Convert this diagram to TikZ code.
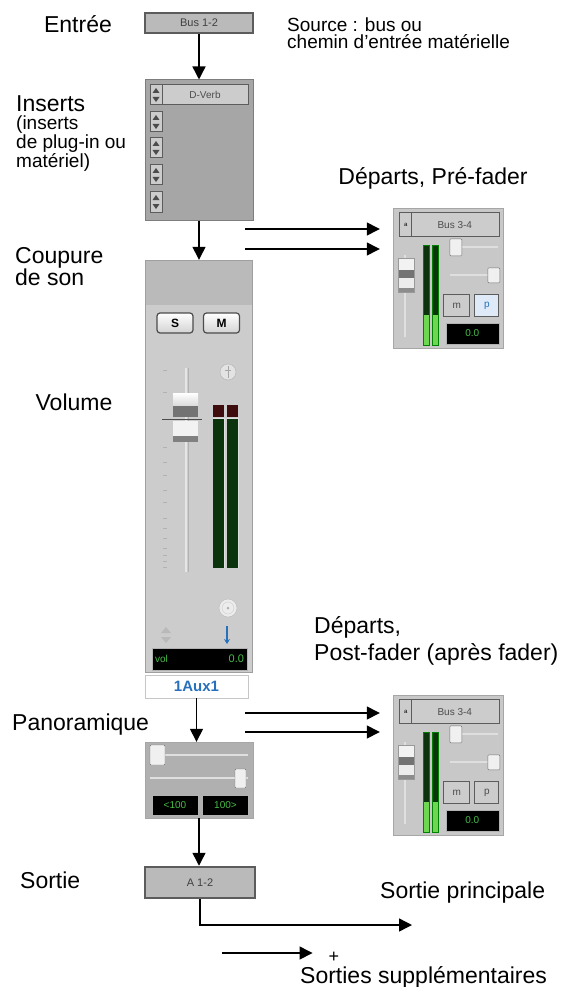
\documentclass[tikz,border=0pt]{standalone}
\usepackage{fontspec}
\setmainfont{Liberation Sans}
\usetikzlibrary{arrows.meta, positioning, calc}

\definecolor{busfill}{RGB}{186,186,186}
\definecolor{busedge}{RGB}{92,92,92}
\definecolor{insfill}{RGB}{166,166,166}
\definecolor{btnfill}{RGB}{204,204,204}
\definecolor{stripfill}{RGB}{204,204,204}
\definecolor{striptop}{RGB}{186,186,186}
\definecolor{sendfill}{RGB}{200,200,200}
\definecolor{panfill}{RGB}{176,176,176}
\definecolor{lcdgreen}{RGB}{70,190,70}
\definecolor{meterdark}{RGB}{12,52,12}
\definecolor{meterlit}{RGB}{110,215,80}
\definecolor{clipred}{RGB}{62,12,12}
\definecolor{auxblue}{RGB}{38,112,188}
\definecolor{pblue}{RGB}{222,234,248}

\tikzset{
  lbl/.style={font=\fontsize{23}{26}\selectfont, inner sep=0pt},
  note/.style={font=\fontsize{19}{17.5}\selectfont, inner sep=0pt, align=left},
  flow/.style={line width=1.4pt, -{Triangle[length=13pt, width=13pt]}},
  busbox/.style={draw=busedge, line width=2.5pt, fill=busfill, inner sep=0pt,
    font=\fontsize{11}{11}\selectfont, text=black!75},
  uibtn/.style={draw=busedge, line width=1pt, fill=btnfill, inner sep=0pt,
    font=\fontsize{10}{10}\selectfont, text=black!70},
  smbtn/.style={draw=black!70, line width=1.2pt, rounded corners=3pt, top color=white,
    bottom color=gray!35, minimum width=36pt, minimum height=20pt, inner sep=0pt,
    font=\bfseries\fontsize{12}{12}\selectfont},
  lcd/.style={fill=black, draw=gray!60, inner sep=0pt, font=\fontsize{10}{10}\selectfont, text=lcdgreen},
  knob/.style={draw=black!55, fill=gray!12, rounded corners=1pt},
  track/.style={draw=white!75!gray, line width=1.6pt},
  sendbox/.style={draw=gray!70, fill=sendfill, minimum width=110pt, minimum height=140pt, inner sep=0pt},
  pics/sendpanel/.style={code={
    % selecteur de bus
    \node[uibtn, minimum width=100pt, minimum height=24pt] (-bus) at (57,17) {\hspace{10pt}Bus 3-4};
    \draw[busedge, line width=1pt] (19,5) -- (19,29);
    \node[font=\fontsize{6}{6}\selectfont, inner sep=0pt] (-sel) at (13,17) {a};
    % fader
    \draw[track] (12,47) -- (12,129);
    \fill[white!90!gray] (5,50) rectangle (21,62);
    \fill[black!55] (5,62) rectangle (21,70);
    \fill[white!85!gray] (5,70) rectangle (21,80);
    \fill[black!45] (5,80) rectangle (21,84);
    \draw[black!40] (5,50) rectangle (21,84);
    % vu-metres
    \foreach \mx in {30,39} {
      \fill[meterdark] (\mx,37) rectangle (\mx+6,137);
      \fill[meterlit] (\mx,107) rectangle (\mx+6,137);
      \draw[black!50!green, line width=0.4pt] (\mx,37) rectangle (\mx+6,137);
    }
    % curseurs
    \draw[track] (57,39) -- (105,39);
    \draw[knob] (57,31) rectangle (69,48);
    \draw[track] (57,67) -- (105,67);
    \draw[knob] (95,60) rectangle (107,75);
    % boutons m et p
    \node[uibtn, minimum width=26pt, minimum height=22pt] (-m) at (64,98) {m};
    \node[uibtn, minimum width=24pt, minimum height=22pt, #1] (-p) at (94,98) {p};
    \node[lcd, minimum width=53pt, minimum height=21pt] (-lcd) at (79.5,125.5) {0.0};
  }},
}

\begin{document}
\begin{tikzpicture}[x=1pt, y=-1pt]
  \fill[white] (0,0) rectangle (568,987);
  \useasboundingbox (0,0) rectangle (568,987);

  % entree
  \node[busbox, minimum width=108pt, minimum height=20pt] (src) at (199,23) {Bus 1-2};
  \node[lbl] (srclbl) at (78,24) {Entrée};
  \node[note, anchor=west] (srcnote) at (287,33) {Source : bus ou\\chemin d'entrée matérielle};

  % inserts
  \node[draw=busedge!80, line width=1pt, fill=insfill, minimum width=108pt, minimum height=140pt, inner sep=0pt] (ins) at (199,150) {};
  \node[uibtn, minimum width=98pt, minimum height=20pt] (verb) at (199,95) {\hspace{12pt}D-Verb};
  \foreach \sy in {95,122,148,175,202} {
    \draw[uibtn] (150,\sy-10) rectangle (162,\sy+10);
    \fill[black!70] (156,\sy-7) -- (152.5,\sy-2) -- (159.5,\sy-2) -- cycle;
    \fill[black!70] (156,\sy+7) -- (152.5,\sy+2) -- (159.5,\sy+2) -- cycle;
  }
  \node[lbl, anchor=west] (inslbl) at (16,104) {Inserts};
  \node[note, anchor=north west] (insnote) at (16,116) {(inserts\\de plug-in ou\\matériel)};
  \draw[flow] (src.south) -- (ins.north);

  % tranche
  \node[draw=gray!75, fill=stripfill, minimum width=107pt, minimum height=412pt, inner sep=0pt] (ch) at (198.5,466) {};
  \fill[striptop] (145.5,260.5) rectangle (251.5,305);
  \draw[flow] (ins.south) -- (ins.south |- ch.north);
  \node[lbl, align=left, anchor=west, font=\fontsize{23}{22}\selectfont] (mutelbl) at (15,267) {Coupure\\de son};
  \node[smbtn] (solo) at (175,323) {S};
  \node[smbtn] (mute) at (221.5,323) {M};
  \draw[gray!60, fill=gray!22] (228,372) circle (8pt);
  \draw[gray!70, line width=0.8pt] (228,366) -- (228,378) (225,370) -- (231,370);

  % fader
  \node[lbl] (vollbl) at (74,402) {Volume};
  \foreach \ty in {370,392,447,462,475,490,502,518,528,538,548,555,561,567}
    \draw[gray!60, line width=0.8pt] (163,\ty) -- (167,\ty);
  \draw[white!80!gray, line width=2pt] (186,368) -- (186,572);
  \draw[gray!60, line width=0.5pt] (188,368) -- (188,572);
  \shade[top color=white, bottom color=gray!30] (173,393) rectangle (198,406);
  \fill[black!55] (173,406) rectangle (198,417);
  \fill[white!90!gray] (173,421) rectangle (198,436);
  \fill[black!50] (173,436) rectangle (198,442);
  \draw[black!70, line width=1pt] (162,419) -- (202,419);
  \foreach \mx in {213,227} {
    \fill[clipred] (\mx,405) rectangle (\mx+11,417);
    \fill[meterdark] (\mx,419) rectangle (\mx+11,568);
    \draw[white!75!gray, line width=0.8pt] (\mx,418) -- (\mx+11,418) -- (\mx+11,568);
  }
  \draw[gray!55, fill=gray!15] (228,608) circle (9pt);
  \draw[gray!40] (228,608) circle (6pt);
  \fill[gray!60] (228,608) circle (1.5pt);
  \fill[gray!55] (166,627) -- (161,633) -- (171,633) -- cycle;
  \fill[gray!55] (166,643) -- (161,637) -- (171,637) -- cycle;
  \draw[auxblue, line width=1.6pt, -{Stealth[length=5pt, width=6pt]}] (227,626) -- (227,644);
  \node[lcd, minimum width=95pt, minimum height=22pt] (vol) at (199.5,659) {};
  \node[text=lcdgreen, font=\fontsize{10}{10}\selectfont, inner sep=0pt, anchor=west] (volname) at ([xshift=3pt]vol.west) {vol};
  \node[text=lcdgreen, font=\fontsize{11}{11}\selectfont, inner sep=0pt, anchor=east] (volval) at ([xshift=-3pt]vol.east) {0.0};
  \node[draw=gray!45, fill=white, minimum width=103pt, minimum height=23pt, inner sep=0pt, text=auxblue,
    font=\bfseries\fontsize{15}{15}\selectfont] (aux) at (196.5,686.5) {1Aux1};

  % departs pre-fader
  \node[lbl] (prelbl) at (433,178) {Départs, Pré-fader};
  \node[sendbox] (pre) at (448,278) {};
  \pic (preui) at (pre.north west) {sendpanel={fill=pblue, text=auxblue}};
  \coordinate (preA) at (245,229);
  \coordinate (preB) at (245,249);
  \draw[flow, shorten >=13pt] (preA) -- (preA -| pre.west);
  \draw[flow, shorten >=13pt] (preB) -- (preB -| pre.west);

  % departs post-fader
  \node[lbl, align=left, anchor=west, font=\fontsize{23}{27}\selectfont] (postlbl) at (314,641) {Départs,\\Post-fader (après fader)};
  \node[sendbox] (post) at (448,765) {};
  \pic (postui) at (post.north west) {sendpanel={fill=btnfill}};
  \coordinate (postA) at (245,713);
  \coordinate (postB) at (245,732);
  \draw[flow, shorten >=13pt] (postA) -- (postA -| post.west);
  \draw[flow, shorten >=13pt] (postB) -- (postB -| post.west);

  % panoramique
  \node[lbl, anchor=west] (panlbl) at (12,725) {Panoramique};
  \node[draw=gray!70, fill=panfill, minimum width=108pt, minimum height=76pt, inner sep=0pt] (pan) at (199,780) {};
  \draw[flow] (aux.south) -- (aux.south |- pan.north);
  \draw[track] (150,755) -- (248,755);
  \draw[knob] (150,745) rectangle (165,765);
  \draw[track] (150,778) -- (248,778);
  \draw[knob] (235,769) rectangle (246,788);
  \node[lcd, minimum width=46pt, minimum height=20pt] (panl) at (175,805) {<100};
  \node[lcd, minimum width=46pt, minimum height=20pt] (panr) at (225.5,805) {100>};

  % sortie
  \node[lbl, anchor=west] (outlbl) at (20,880) {Sortie};
  \node[busbox, minimum width=110pt, minimum height=31pt] (out) at (200,882.5) {A 1-2};
  \draw[flow] (pan.south) -- (pan.south |- out.north);
  \coordinate (mainout) at (412,925);
  \draw[flow] (out.south) |- (mainout);
  \node[lbl, anchor=west] (mainlbl) at (380,893) {Sortie principale};
  \node[font=\fontsize{18}{18}\selectfont, inner sep=0pt] (plus) at (334,957) {+};
  \coordinate (xtra) at (222,953);
  \draw[flow, shorten >=16pt] (xtra) -- (xtra -| plus.west);
  \node[lbl, anchor=west] (xtralbl) at (300,977) {Sorties supplémentaires};
\end{tikzpicture}
\end{document}
